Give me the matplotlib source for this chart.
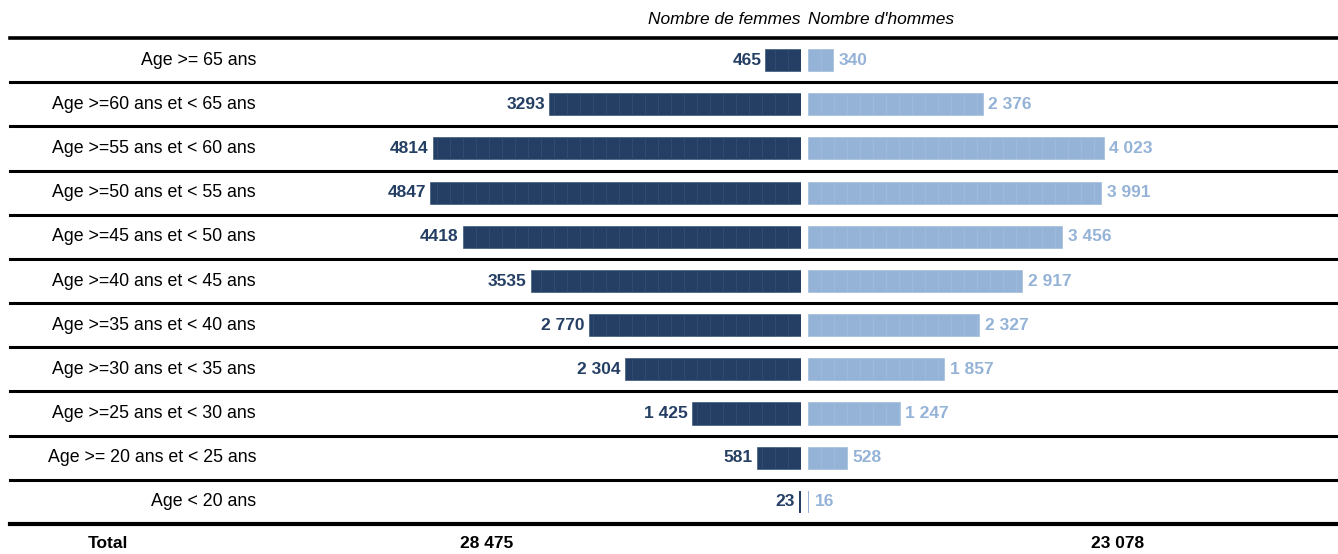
import numpy as np
import matplotlib.pyplot as plt
from matplotlib.lines import Line2D
from matplotlib.transforms import blended_transform_factory

plt.rcParams['font.family'] = ['Liberation Sans', 'DejaVu Sans']

# Données
categories = ['Age >= 65 ans', 'Age >=60 ans et < 65 ans', 'Age >=55 ans et < 60 ans',
              'Age >=50 ans et < 55 ans', 'Age >=45 ans et < 50 ans', 'Age >=40 ans et < 45 ans',
              'Age >=35 ans et < 40 ans', 'Age >=30 ans et < 35 ans', 'Age >=25 ans et < 30 ans',
              'Age >= 20 ans et < 25 ans', 'Age < 20 ans']
femmes = [465, 3293, 4814, 4847, 4418, 3535, 2770, 2304, 1425, 581, 23]
hommes = [340, 2376, 4023, 3991, 3456, 2917, 2327, 1857, 1247, 528, 16]
femmes_labels = ['465', '3293', '4814', '4847', '4418', '3535', '2 770', '2 304', '1 425', '581', '23']
hommes_labels = ['340', '2 376', '4 023', '3 991', '3 456', '2 917', '2 327', '1 857', '1 247', '528', '16']
total_femmes = '28 475'
total_hommes = '23 078'

col_f = '#243F63'
col_m = '#95B3D7'

W, H = 1338, 554
fig = plt.figure(figsize=(W / 100, H / 100), dpi=100)


def fy(y):
    return 1 - y / H


top, bottom = 38, 524
ax_f = fig.add_axes([0, fy(bottom), 801 / W, (bottom - top) / H])
ax_m = fig.add_axes([808 / W, fy(bottom), (W - 808) / W, (bottom - top) / H])

px_f = 0.0765  # pixels par unité, côté femmes
px_m = 0.0735  # côté hommes
ax_f.set_xlim(801 / px_f, 0)
ax_m.set_xlim(0, (W - 808) / px_m)

y = np.arange(len(categories))
for ax in (ax_f, ax_m):
    ax.set_ylim(len(categories) - 0.5, -0.5)
    ax.axis('off')

lw_f = [0.5 if v > 50 else 0 for v in femmes]
lw_m = [0.5 if v > 50 else 0 for v in hommes]
ax_f.barh(y, femmes, height=0.5, color=col_f, edgecolor='#3F5A7E', linewidth=lw_f)
ax_m.barh(y, hommes, height=0.5, color=col_m, edgecolor='#A3BEDD', linewidth=lw_m)

# petits segments dans les barres
seg = 13
for i in range(len(categories)):
    k = seg / px_f
    while k < femmes[i] - 2:
        ax_f.vlines(k, i - 0.25, i + 0.25, color='#34507A', lw=0.5)
        k += seg / px_f
    k = seg / px_m
    while k < hommes[i] - 2:
        ax_m.vlines(k, i - 0.25, i + 0.25, color='#A3BEDD', lw=0.5)
        k += seg / px_m

# valeurs
for i in range(len(categories)):
    ax_f.annotate(femmes_labels[i], (femmes[i], i), xytext=(-3, 0), textcoords='offset points',
                  ha='right', va='center', fontsize=12.5, fontweight='bold', color=col_f)
    ax_m.annotate(hommes_labels[i], (hommes[i], i), xytext=(4, 0), textcoords='offset points',
                  ha='left', va='center', fontsize=12.5, fontweight='bold', color=col_m)

# étiquettes des catégories
tr = blended_transform_factory(fig.transFigure, ax_f.transData)
for i, c in enumerate(categories):
    fig.text(256 / W, i, c, transform=tr, ha='right', va='center', fontsize=12.8)

# lignes de séparation
for i in range(len(categories) + 1):
    lw = 2.2 if 0 < i < len(categories) else 2.6
    if i == len(categories):
        lw = 3.0
    fig.add_artist(Line2D([10 / W, 1], [i - 0.5, i - 0.5], transform=tr, color='black', lw=lw))

# en-têtes
fig.text(800 / W, fy(20), 'Nombre de femmes', ha='right', va='center', fontsize=12.5, style='italic')
fig.text(808 / W, fy(20), "Nombre d'hommes", ha='left', va='center', fontsize=12.5, style='italic')

# total
fig.text(108 / W, fy(544), 'Total', ha='center', va='center', fontsize=12.5, fontweight='bold')
fig.text(487 / W, fy(544), total_femmes, ha='center', va='center', fontsize=12.5, fontweight='bold')
fig.text(1118 / W, fy(544), total_hommes, ha='center', va='center', fontsize=12.5, fontweight='bold')

plt.savefig('out.png', dpi=100)
